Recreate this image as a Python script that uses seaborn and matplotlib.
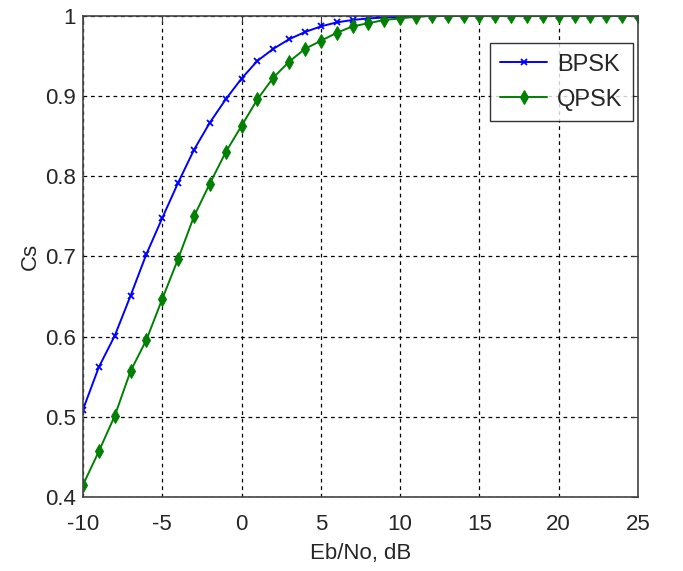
import numpy as np
import pandas as pd
import matplotlib
matplotlib.use("Agg")
import matplotlib.pyplot as plt
import seaborn as sns

ebno = list(range(-10, 26))
bpsk = [0.509, 0.562, 0.601, 0.651, 0.703, 0.748, 0.792, 0.833, 0.867, 0.896,
        0.922, 0.944, 0.959, 0.971, 0.980, 0.987, 0.992, 0.995, 0.997, 0.998,
        0.999, 1.0, 1.0, 1.0, 1.0, 1.0, 1.0, 1.0, 1.0, 1.0,
        1.0, 1.0, 1.0, 1.0, 1.0, 1.0]
qpsk = [0.415, 0.457, 0.501, 0.557, 0.596, 0.647, 0.697, 0.750, 0.791, 0.830,
        0.863, 0.896, 0.923, 0.943, 0.959, 0.969, 0.979, 0.987, 0.991, 0.995,
        0.997, 0.999, 1.0, 1.0, 1.0, 1.0, 1.0, 1.0, 1.0, 1.0,
        1.0, 1.0, 1.0, 1.0, 1.0, 1.0]

sns.set_style("white")
plt.rcParams["font.family"] = ["Liberation Sans", "DejaVu Sans"]
plt.rcParams["axes.unicode_minus"] = False

fig = plt.figure(figsize=(6.83, 5.71), dpi=100)
ax = fig.add_axes([0.1215, 0.1296, 0.8125, 0.8424])

sns.lineplot(x=ebno, y=bpsk, ax=ax, color="#0000ff", marker="x", markersize=5,
             markeredgecolor="#0000ff", markeredgewidth=1.3, linewidth=1.4,
             label="BPSK")
sns.lineplot(x=ebno, y=qpsk, ax=ax, color="#008000", marker="d", markersize=7,
             markeredgecolor="#008000", linewidth=1.4, label="QPSK")

ax.set_xlim(-10, 25)
ax.set_ylim(0.4, 1.0)
ax.set_xticks([-10, -5, 0, 5, 10, 15, 20, 25])
ax.set_yticks([0.4, 0.5, 0.6, 0.7, 0.8, 0.9, 1.0])
ax.set_yticklabels(["0.4", "0.5", "0.6", "0.7", "0.8", "0.9", "1"])
ax.tick_params(direction="in", length=5, labelsize=16, top=True, right=True,
               color="#333333")
ax.tick_params(axis="x", pad=12)
ax.tick_params(axis="y", pad=5)
ax.grid(True, color="black", linestyle=(0, (3, 3)), linewidth=0.9)
for s in ax.spines.values():
    s.set_color("#444444")
    s.set_linewidth(1.2)

ax.set_xlabel("Eb/No, dB", fontsize=16, labelpad=6)
ax.set_ylabel("Cs", fontsize=16, labelpad=3)

leg = ax.legend(loc="upper right", bbox_to_anchor=(0.991, 0.944), fontsize=17,
                frameon=True, fancybox=False, handlelength=2.0, borderpad=0.45,
                labelspacing=0.55, handletextpad=0.4, borderaxespad=0)
leg.get_frame().set_edgecolor("black")
leg.get_frame().set_linewidth(1.0)

fig.savefig("out.png", dpi=100)
